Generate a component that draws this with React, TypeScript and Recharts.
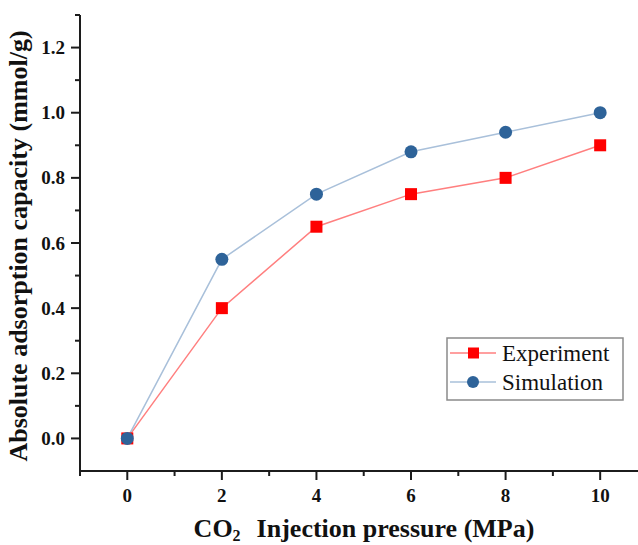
import React from 'react';
import { LineChart, Line, XAxis, YAxis, Legend, Label } from 'recharts';

// adsorption vs. CO2 injection pressure
const pressure = [0, 2, 4, 6, 8, 10];
const experiment = [0, 0.4, 0.65, 0.75, 0.8, 0.9];
const simulation = [0, 0.55, 0.75, 0.88, 0.94, 1.0];

const xTicks = [-1, 0, 1, 2, 3, 4, 5, 6, 7, 8, 9, 10];
const yTicks = [0, 0.1, 0.2, 0.3, 0.4, 0.5, 0.6, 0.7, 0.8, 0.9, 1.0, 1.1, 1.2, 1.3];

const data = pressure.map((p, i) => ({
  pressure: p,
  experiment: experiment[i],
  simulation: simulation[i],
}));

const EXP_LINE = '#ff7f7f';
const EXP_MARK = '#ff0000';
const SIM_LINE = '#a9c0da';
const SIM_MARK = '#2e6399';
const AXIS = '#1c1c1c';
const TEXT = '#111';
const serif = { fontFamily: "'Liberation Serif', 'Times New Roman', Tinos, 'DejaVu Serif', serif" };

const XTick = (props: any) => {
  const { x, y, payload } = props;
  const v = payload.value;
  const major = v >= 0 && v % 2 === 0;
  return (
    <g>
      <line x1={x} y1={y} x2={x} y2={y + (major ? 9 : 5)} stroke={AXIS} strokeWidth={2} />
      {major && (
        <text x={x} y={y + 31} textAnchor="middle" style={serif} fontWeight="bold" fontSize={19} fill={TEXT}>
          {v}
        </text>
      )}
    </g>
  );
};

const YTick = (props: any) => {
  const { x, y, payload } = props;
  const v = payload.value;
  const major = Math.round(v * 10) % 2 === 0;
  return (
    <g>
      <line x1={x} y1={y} x2={x - (major ? 9 : 5)} y2={y} stroke={AXIS} strokeWidth={2} />
      {major && (
        <text x={x - 15} y={y + 6.5} textAnchor="end" style={serif} fontWeight="bold" fontSize={19} fill={TEXT}>
          {v.toFixed(1)}
        </text>
      )}
    </g>
  );
};

const SquareDot = (p: any) => (
  <rect key={`sq-${p.index}`} x={p.cx - 6} y={p.cy - 6} width={12} height={12} fill={EXP_MARK} />
);

const CircleDot = (p: any) => (
  <circle key={`ci-${p.index}`} cx={p.cx} cy={p.cy} r={6.5} fill={SIM_MARK} />
);

const LegendBox = (props: any) => {
  const items = props.payload || [];
  return (
    <svg width={178} height={64}>
      <rect x={1} y={1} width={176} height={62} fill="#fff" stroke="#8a8a8a" strokeWidth={1.5} />
      {items.map((item: any, i: number) => {
        const cy = 16 + i * 29;
        const isExp = item.dataKey === 'experiment';
        return (
          <g key={item.value}>
            <line x1={4} y1={cy} x2={50} y2={cy} stroke={isExp ? EXP_LINE : SIM_LINE} strokeWidth={1.5} />
            {isExp ? (
              <rect x={22} y={cy - 5.5} width={11} height={11} fill={EXP_MARK} />
            ) : (
              <circle cx={27} cy={cy} r={6} fill={SIM_MARK} />
            )}
            <text x={56} y={cy + 8} style={serif} fontSize={23} fill={TEXT}>
              {item.value}
            </text>
          </g>
        );
      })}
    </svg>
  );
};

export default function App() {
  return (
    <div style={{ position: 'absolute', left: 0, top: 0, background: '#fff' }}>
      <LineChart width={638} height={545} data={data} margin={{ top: 15, right: 0, bottom: 0, left: 0 }}>
        <XAxis
          dataKey="pressure"
          type="number"
          domain={[-1, 10.8]}
          ticks={xTicks}
          interval={0}
          allowDataOverflow
          height={74}
          tickSize={0}
          tickMargin={0}
          tickLine={false}
          axisLine={{ stroke: AXIS, strokeWidth: 2 }}
          tick={<XTick />}
        >
          <Label
            content={(p: any) => {
              const vb = p.viewBox;
              const cx = vb.x + vb.width / 2 + 5;
              return (
                <text x={cx} y={537} textAnchor="middle" style={serif} fontWeight="bold" fontSize={26} fill={TEXT}>
                  CO<tspan fontSize={16} dy={4}>2</tspan>
                  <tspan dy={-4} dx={16}>Injection pressure (MPa)</tspan>
                </text>
              );
            }}
          />
        </XAxis>
        <YAxis
          type="number"
          domain={[-0.1, 1.3]}
          ticks={yTicks}
          interval={0}
          allowDataOverflow
          width={80}
          tickSize={0}
          tickMargin={0}
          tickLine={false}
          axisLine={{ stroke: AXIS, strokeWidth: 2 }}
          tick={<YTick />}
        >
          <Label
            content={(p: any) => {
              const vb = p.viewBox;
              const cy = vb.y + vb.height / 2 + 3;
              return (
                <text
                  x={27}
                  y={cy}
                  transform={`rotate(-90, 27, ${cy})`}
                  textAnchor="middle"
                  style={serif}
                  fontWeight="bold"
                  fontSize={26}
                  fill={TEXT}
                >
                  Absolute adsorption capacity (mmol/g)
                </text>
              );
            }}
          />
        </YAxis>
        <Legend
          layout="horizontal"
          verticalAlign="middle"
          align="center"
          content={<LegendBox />}
          wrapperStyle={{ left: 446, top: 337, width: 178, height: 64 }}
        />
        <Line
          name="Experiment"
          dataKey="experiment"
          stroke={EXP_LINE}
          strokeWidth={1.5}
          dot={SquareDot}
          activeDot={false}
          isAnimationActive={false}
        />
        <Line
          name="Simulation"
          dataKey="simulation"
          stroke={SIM_LINE}
          strokeWidth={1.5}
          dot={CircleDot}
          activeDot={false}
          isAnimationActive={false}
        />
      </LineChart>
    </div>
  );
}
